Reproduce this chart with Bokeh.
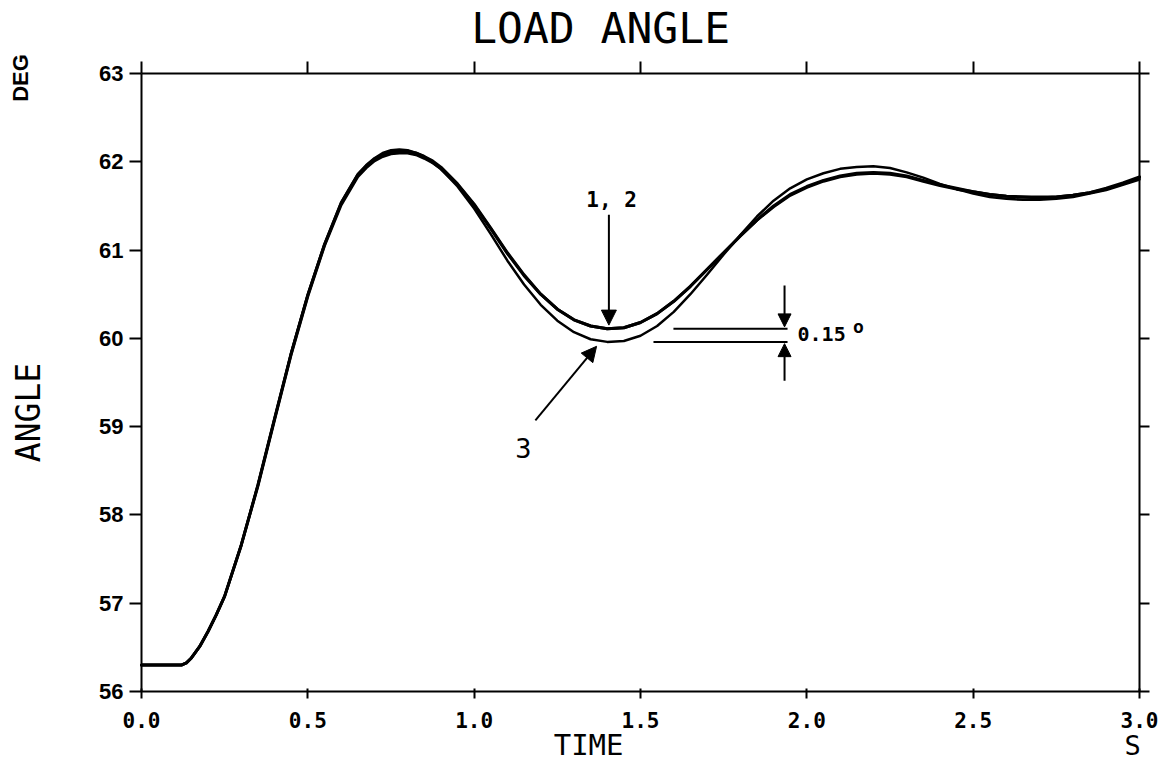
from bokeh.plotting import figure
from bokeh.models import (Range1d, LinearAxis, FixedTicker, Label, Arrow, NormalHead,
                          ColumnDataSource, CustomJSTickFormatter)
from bokeh.embed import file_html
from bokeh.resources import INLINE
import math

# ---------------- data ----------------
time_s = [0.00, 0.05, 0.10, 0.12, 0.135, 0.15, 0.175, 0.20, 0.225, 0.25, 0.30, 0.35,
          0.40, 0.45, 0.50, 0.55, 0.60, 0.65, 0.675, 0.70, 0.725, 0.75, 0.775, 0.80,
          0.825, 0.85, 0.875, 0.90, 0.95, 1.00, 1.05, 1.10, 1.15, 1.20, 1.25, 1.30,
          1.35, 1.40, 1.45, 1.50, 1.55, 1.60, 1.65, 1.70, 1.75, 1.80, 1.85, 1.90,
          1.95, 2.00, 2.05, 2.10, 2.15, 2.20, 2.25, 2.30, 2.35, 2.40, 2.45, 2.50,
          2.55, 2.60, 2.65, 2.70, 2.75, 2.80, 2.85, 2.90, 2.95, 3.00]

angle_1 = [56.30, 56.30, 56.30, 56.30, 56.325, 56.38, 56.51, 56.68, 56.87, 57.08, 57.66, 58.33,
           59.08, 59.82, 60.48, 61.05, 61.51, 61.83, 61.93, 62.01, 62.06, 62.09, 62.10, 62.10,
           62.08, 62.04, 61.99, 61.92, 61.74, 61.51, 61.24, 60.96, 60.71, 60.50, 60.33, 60.21,
           60.14, 60.11, 60.12, 60.18, 60.28, 60.42, 60.59, 60.78, 60.97, 61.16, 61.34, 61.49,
           61.62, 61.71, 61.78, 61.83, 61.86, 61.87, 61.86, 61.83, 61.78, 61.73, 61.69, 61.66,
           61.63, 61.61, 61.60, 61.60, 61.60, 61.62, 61.65, 61.69, 61.75, 61.82]

angle_2 = [56.30, 56.30, 56.30, 56.30, 56.325, 56.38, 56.51, 56.68, 56.87, 57.08, 57.66, 58.34,
           59.09, 59.83, 60.49, 61.06, 61.53, 61.85, 61.95, 62.03, 62.08, 62.11, 62.12, 62.12,
           62.10, 62.06, 62.01, 61.94, 61.75, 61.52, 61.25, 60.97, 60.72, 60.50, 60.33, 60.21,
           60.14, 60.11, 60.12, 60.18, 60.28, 60.42, 60.59, 60.78, 60.97, 61.16, 61.34, 61.50,
           61.63, 61.72, 61.79, 61.84, 61.87, 61.88, 61.87, 61.84, 61.79, 61.74, 61.70, 61.66,
           61.63, 61.61, 61.60, 61.59, 61.60, 61.62, 61.65, 61.70, 61.76, 61.83]

angle_3 = [56.30, 56.30, 56.30, 56.30, 56.325, 56.38, 56.51, 56.68, 56.87, 57.08, 57.66, 58.34,
           59.09, 59.84, 60.50, 61.07, 61.54, 61.86, 61.96, 62.04, 62.10, 62.13, 62.14, 62.13,
           62.10, 62.06, 61.99, 61.92, 61.72, 61.47, 61.18, 60.88, 60.61, 60.38, 60.20, 60.07,
           59.99, 59.96, 59.97, 60.03, 60.14, 60.30, 60.50, 60.72, 60.95, 61.17, 61.38, 61.56,
           61.70, 61.80, 61.87, 61.92, 61.94, 61.95, 61.93, 61.88, 61.82, 61.75, 61.69, 61.64,
           61.60, 61.58, 61.57, 61.57, 61.58, 61.60, 61.64, 61.68, 61.74, 61.80]

x_ticks = [0.0, 0.5, 1.0, 1.5, 2.0, 2.5, 3.0]
y_ticks = [56, 57, 58, 59, 60, 61, 62, 63]

MONO = "DejaVu Sans Mono"
SANS = "Liberation Sans"

# ---------------- geometry: frame covers the whole canvas ----------------
W, H = 1173, 763
X0_PX, X1_PX = 141, 1139      # pixel columns of t=0 and t=3
Y_TOP_PX, Y_BOT_PX = 73, 691  # pixel rows of 63 and 56
xs = (X1_PX - X0_PX) / 3.0
ys = (Y_BOT_PX - Y_TOP_PX) / 7.0
x_range = Range1d(0 - X0_PX / xs, 3 + (W - X1_PX) / xs)
y_range = Range1d(56 - (H - Y_BOT_PX) / ys, 63 + Y_TOP_PX / ys)

p = figure(width=W, height=H, x_range=x_range, y_range=y_range,
           output_backend="svg", toolbar_location=None,
           x_axis_location=None, y_axis_location=None, min_border=0)
p.outline_line_color = None
p.xgrid.visible = False
p.ygrid.visible = False
p.background_fill_color = "white"
p.border_fill_color = "white"

def style_axis(ax, ticks, tin, tout, labels=True, font=SANS, size="22px", bold=True):
    ax.ticker = FixedTicker(ticks=ticks, minor_ticks=[])
    ax.axis_line_width = 2
    ax.axis_line_color = "black"
    ax.major_tick_line_width = 2
    ax.major_tick_line_color = "black"
    ax.major_tick_in = tin
    ax.major_tick_out = tout
    ax.minor_tick_line_color = None
    if labels:
        ax.major_label_text_font = font
        ax.major_label_text_font_size = size
        ax.major_label_text_font_style = "bold" if bold else "normal"
        ax.major_label_text_color = "black"
    else:
        ax.major_label_text_color = None

left = LinearAxis(fixed_location=0.0, bounds=(56, 63))
style_axis(left, y_ticks, 0, 12, True, SANS, "22px", True)
left.major_label_standoff = 6
p.add_layout(left, "left")

right = LinearAxis(fixed_location=3.0, bounds=(56, 63))
style_axis(right, y_ticks, 0, 10, labels=False)
p.add_layout(right, "right")

top = LinearAxis(fixed_location=63.0, bounds=(0, 3))
style_axis(top, x_ticks, 0, 12, labels=False)
p.add_layout(top, "above")

bottom = LinearAxis(fixed_location=56.0, bounds=(0, 3))
style_axis(bottom, x_ticks, 3, 7, True, MONO, "21px", True)
bottom.formatter = CustomJSTickFormatter(code="return tick.toFixed(1);")
bottom.major_label_standoff = 13
p.add_layout(bottom, "below")

src = ColumnDataSource(dict(t=time_s, a1=angle_1, a2=angle_2, a3=angle_3))
for col, w in (("a1", 3), ("a2", 3), ("a3", 2.5)):
    p.line("t", col, source=src, line_color="black", line_width=w,
           line_join="round", line_cap="round")

def lab(text, x, y, font=MONO, size="20px", style="normal", angle=0.0,
        align="center", baseline="middle"):
    p.add_layout(Label(x=x, y=y, text=text, text_font=font, text_font_size=size,
                       text_font_style=style, text_color="black", angle=angle,
                       text_align=align, text_baseline=baseline))

# title and axis labels
lab("LOAD ANGLE", 1.380, 63.515, MONO, "43px")
lab("DEG", -0.364, 62.949, SANS, "22px", "bold", angle=math.pi / 2)
lab("ANGLE", -0.34, 59.16, MONO, "33px", angle=math.pi / 2)
lab("TIME", 1.344, 55.39, MONO, "29px")
lab("S", 2.979, 55.39, MONO, "27px")

# annotations
dip = [i for i, t in enumerate(time_s) if 1.0 <= t <= 2.0]
min1 = min(angle_1[i] for i in dip)
min3 = min(angle_3[i] for i in dip)
t_min = time_s[min(dip, key=lambda i: angle_1[i])]

lab("1, 2", 1.413, 61.57, MONO, "21px", "bold")
p.add_layout(Arrow(end=NormalHead(size=15, fill_color="black", line_color="black"),
                   x_start=t_min + 0.005, y_start=61.40, x_end=t_min + 0.005, y_end=min1 + 0.04,
                   line_width=2, line_color="black"))

lab("3", 1.148, 58.76, MONO, "27px")
p.add_layout(Arrow(end=NormalHead(size=15, fill_color="black", line_color="black"),
                   x_start=1.184, y_start=59.07, x_end=1.368, y_end=min3 - 0.05,
                   line_width=2, line_color="black"))

p.segment(x0=[1.599, 1.539], y0=[min1, min3], x1=[1.942, 1.942], y1=[min1, min3],
          line_color="black", line_width=2)
p.add_layout(Arrow(end=NormalHead(size=13, fill_color="black", line_color="black"),
                   x_start=1.933, y_start=60.60, x_end=1.933, y_end=min1 + 0.02,
                   line_width=2, line_color="black"))
p.add_layout(Arrow(end=NormalHead(size=13, fill_color="black", line_color="black"),
                   x_start=1.933, y_start=59.52, x_end=1.933, y_end=min3 - 0.02,
                   line_width=2, line_color="black"))
lab("0.15", 1.972, 60.044, MONO, "20px", "bold", align="left")
lab("o", 2.155, 60.13, MONO, "18px", "bold")

open("out.html", "w").write(file_html(p, INLINE))
